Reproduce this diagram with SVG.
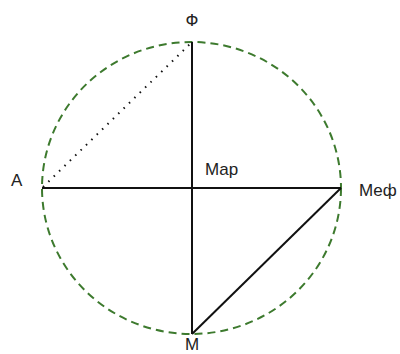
<svg xmlns="http://www.w3.org/2000/svg" width="400" height="354" viewBox="0 0 400 354">
<style>
.lbl{font-family:"Liberation Sans",Arial,sans-serif;font-size:17px;fill:#222}
.ln{stroke:#111;stroke-width:2;fill:none}
</style>
<rect width="400" height="354" fill="#fff"/>
<g id="circle"><ellipse cx="191.5" cy="188" rx="149.5" ry="146" fill="none" stroke="#3d7a2e" stroke-width="2" stroke-dasharray="8,5"/></g>
<g id="connectors">
<line class="ln" x1="192" y1="42" x2="192" y2="334"/>
<line class="ln" x1="42" y1="188" x2="341" y2="188"/>
<line class="ln" x1="341" y1="188" x2="192" y2="334"/>
<line x1="43" y1="187" x2="191" y2="43" stroke="#111" stroke-width="2" stroke-dasharray="1.5,6"/>
</g>
<g id="F"><text class="lbl" x="192" y="26" text-anchor="middle">Ф</text></g>
<g id="A"><text class="lbl" x="11" y="186">А</text></g>
<g id="Mar"><text class="lbl" x="205" y="175">Мар</text></g>
<g id="Mef"><text class="lbl" x="359" y="196">Меф</text></g>
<g id="M"><text class="lbl" x="192" y="349.5" text-anchor="middle">М</text></g>
</svg>
